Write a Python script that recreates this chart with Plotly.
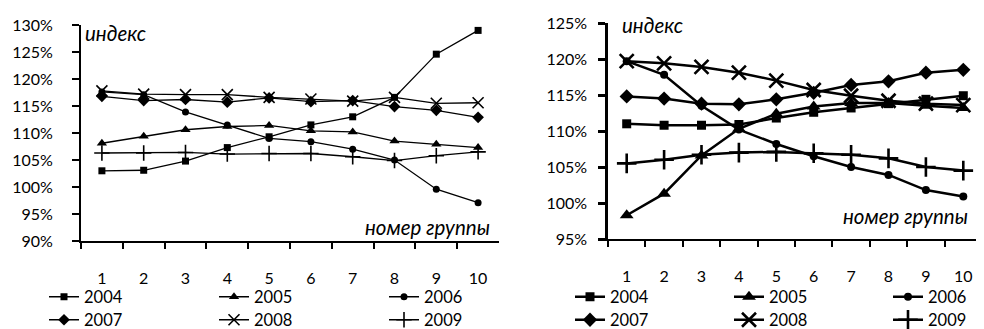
import plotly.graph_objects as go

groups = ["1", "2", "3", "4", "5", "6", "7", "8", "9", "10"]
years = ["2004", "2005", "2006", "2007", "2008", "2009"]

# left chart (index, %)
left_2004 = [103.0, 103.1, 104.8, 107.3, 109.3, 111.5, 113.0, 116.6, 124.6, 129.0]
left_2005 = [108.1, 109.4, 110.6, 111.2, 111.4, 110.4, 110.2, 108.5, 107.9, 107.3]
left_2006 = [117.6, 117.1, 113.9, 111.5, 109.0, 108.4, 107.0, 105.0, 99.6, 97.1]
left_2007 = [116.8, 116.0, 116.2, 115.7, 116.5, 115.8, 116.0, 114.9, 114.2, 112.9]
left_2008 = [117.8, 117.2, 117.1, 117.1, 116.6, 116.3, 115.9, 116.6, 115.5, 115.6]
left_2009 = [106.3, 106.3, 106.4, 106.1, 106.2, 106.2, 105.6, 104.9, 105.8, 106.5]

# right chart (index, %)
right_2004 = [111.0, 110.8, 110.8, 110.9, 111.8, 112.6, 113.2, 113.8, 114.4, 114.9]
right_2005 = [98.3, 101.3, 106.6, 110.3, 112.4, 113.4, 113.9, 113.9, 113.5, 113.2]
right_2006 = [119.7, 117.8, 113.5, 110.2, 108.2, 106.5, 105.0, 103.9, 101.8, 100.9]
right_2007 = [114.8, 114.5, 113.8, 113.7, 114.4, 115.3, 116.4, 116.9, 118.1, 118.5]
right_2008 = [119.7, 119.4, 118.9, 118.1, 117.0, 115.7, 114.9, 114.2, 113.8, 113.6]
right_2009 = [105.5, 106.0, 106.7, 107.0, 107.1, 106.9, 106.7, 106.2, 105.0, 104.5]

left_series = [left_2004, left_2005, left_2006, left_2007, left_2008, left_2009]
right_series = [right_2004, right_2005, right_2006, right_2007, right_2008, right_2009]

y_title = "индекс"
x_title = "номер группы"

FONT = "Lato, 'Noto Sans', sans-serif"
BLACK = "#000000"

symbols = ["square", "triangle-up", "circle", "diamond", "x-thin", "cross-thin"]
left_sizes = [7, 9, 7, 9, 11, 11]
right_sizes = [9, 12, 8, 11, 14, 14]

fig = go.Figure()

for i, (yr, vals) in enumerate(zip(years, left_series)):
    fig.add_trace(go.Scatter(
        x=groups, y=vals, mode="lines+markers", name=yr,
        xaxis="x", yaxis="y",
        line=dict(color=BLACK, width=1.3),
        marker=dict(symbol=symbols[i], size=left_sizes[i], color=BLACK,
                    line=dict(color=BLACK, width=1.6 if i >= 4 else 0)),
        legend="legend" if i < 3 else "legend2",
    ))

for i, (yr, vals) in enumerate(zip(years, right_series)):
    fig.add_trace(go.Scatter(
        x=groups, y=vals, mode="lines+markers", name=yr,
        xaxis="x2", yaxis="y2",
        line=dict(color=BLACK, width=2.5),
        marker=dict(symbol=symbols[i], size=right_sizes[i], color=BLACK,
                    line=dict(color=BLACK, width=2.6 if i >= 4 else 0)),
        legend="legend3" if i < 3 else "legend4",
    ))

# the page body adds an 8px margin; the figure fills the rest of the window
OFF = 8
W, H = 984 - OFF, 329 - OFF


def px(x):
    return (x - OFF) / W


def py(y):
    return 1 - (y - OFF) / H


axis_common = dict(showgrid=False, zeroline=False, showline=True, linecolor=BLACK,
                   ticks="outside", tickcolor=BLACK,
                   tickfont=dict(family=FONT, size=16, color=BLACK))

xcommon = dict(axis_common, type="category", tickson="boundaries", ticklen=6,
               linewidth=2, tickwidth=2, ticklabelstandoff=22)

fig.update_layout(
    width=W, height=H,
    margin=dict(l=0, r=0, t=0, b=0, autoexpand=False),
    paper_bgcolor="white", plot_bgcolor="white",
    font=dict(family=FONT, size=16, color=BLACK),
    xaxis=dict(xcommon, domain=[px(81), px(499)], anchor="y", range=[-0.5, 9.5]),
    yaxis=dict(axis_common, domain=[py(241), py(25)], anchor="x",
               range=[90, 130], dtick=5, ticksuffix="%", ticklen=7,
               linewidth=2, tickwidth=2, ticklabelstandoff=16),
    xaxis2=dict(xcommon, domain=[px(608), px(982)], anchor="y2", range=[-0.5, 9.5]),
    yaxis2=dict(axis_common, domain=[py(239), py(23)], anchor="x2",
                range=[95, 125], dtick=5, ticksuffix="%", ticklen=7,
                linewidth=2.5, tickwidth=2.5, ticklabelstandoff=8),
    showlegend=True,
)

leg_common = dict(orientation="h", xanchor="left", yanchor="middle",
                  font=dict(family=FONT, size=16.5, color=BLACK),
                  bgcolor="rgba(0,0,0,0)", itemwidth=30,
                  entrywidthmode="pixels", tracegroupgap=0)
fig.update_layout(
    legend=dict(leg_common, x=px(44), y=py(297), entrywidth=125),
    legend2=dict(leg_common, x=px(44), y=py(320), entrywidth=125),
    legend3=dict(leg_common, x=px(570), y=py(297), entrywidth=114),
    legend4=dict(leg_common, x=px(570), y=py(320), entrywidth=114),
)

ann_font = dict(family=FONT, size=20.5, color=BLACK)
fig.add_annotation(text="<i>" + y_title + "</i>", xref="paper", yref="paper",
                   x=px(83), y=py(33), xanchor="left", yanchor="middle",
                   showarrow=False, font=ann_font)
fig.add_annotation(text="<i>" + y_title + "</i>", xref="paper", yref="paper",
                   x=px(620), y=py(25), xanchor="left", yanchor="middle",
                   showarrow=False, font=ann_font)
fig.add_annotation(text="<i>" + x_title + "</i>", xref="paper", yref="paper",
                   x=px(492), y=py(227), xanchor="right", yanchor="middle",
                   showarrow=False, font=ann_font)
fig.add_annotation(text="<i>" + x_title + "</i>", xref="paper", yref="paper",
                   x=px(970), y=py(216), xanchor="right", yanchor="middle",
                   showarrow=False, font=ann_font)

fig.write_html("out.html")
